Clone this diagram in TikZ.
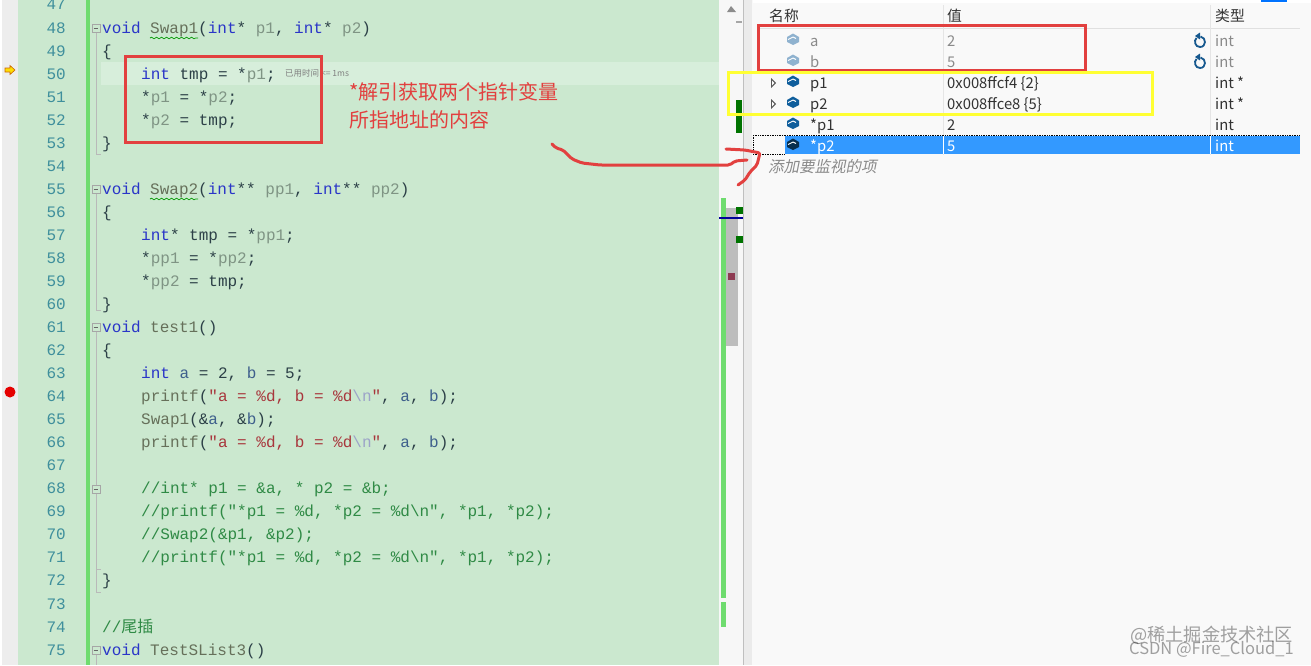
\documentclass[tikz,border=0pt]{standalone}
\usepackage{fontspec}
\usetikzlibrary{decorations.pathmorphing}
\newfontfamily\codefont{Liberation Mono}
\newfontfamily\cjk{Noto Sans CJK SC}
\definecolor{panel}{HTML}{CBE8CF}
\definecolor{curline}{HTML}{D7EEDB}
\definecolor{gutter}{HTML}{EDEDED}
\definecolor{changebar}{HTML}{6FDC6F}
\definecolor{lnum}{HTML}{3F8F9C}
\definecolor{kwc}{HTML}{2A35C8}
\definecolor{pac}{HTML}{7F9484}
\definecolor{txc}{HTML}{2C4047}
\definecolor{fnc}{HTML}{66705A}
\definecolor{stc}{HTML}{A8363C}
\definecolor{esc}{HTML}{9CA3C8}
\definecolor{cmc}{HTML}{2F8A45}
\definecolor{varc}{HTML}{3E5F8C}
\definecolor{mark}{HTML}{E2403F}
\definecolor{selblue}{HTML}{3399FF}
\definecolor{cubec}{HTML}{0F5E9C}
\definecolor{cubeg}{HTML}{8FB2CF}
\definecolor{wtext}{HTML}{333333}
\definecolor{gtext}{HTML}{8A8A8A}
\definecolor{refreshc}{HTML}{17598F}
\definecolor{ybox}{HTML}{FFFF33}
\definecolor{maroonm}{HTML}{8E3A52}
\newcommand{\kw}[1]{\textcolor{kwc}{#1}}
\newcommand{\pa}[1]{\textcolor{pac}{#1}}
\newcommand{\fn}[1]{\textcolor{fnc}{#1}}
\newcommand{\st}[1]{\textcolor{stc}{#1}}
\newcommand{\es}[1]{\textcolor{esc}{#1}}
\newcommand{\vr}[1]{\textcolor{varc}{#1}}
\newcommand{\cm}[1]{\textcolor{cmc}{#1}}
\newcommand{\lineY}[1]{28+23.04*(#1-48)}
\newcommand{\cl}[3]{\node[codeline] (c#1) at (#2,{\lineY{#1}+5}) {#3};}
\newcommand{\foldbox}[1]{\node[foldb] (f#1) at (96,{\lineY{#1}}) {}; \draw[foldline] ($(f#1.west)+(2,0)$) -- ($(f#1.east)+(-2,0)$);}
\newcommand{\cube}[3]{%
 \fill[#3] (#1-6,#2-2) -- (#1,#2-5.5) -- (#1+6,#2-2) -- (#1+6,#2+3) -- (#1,#2+6) -- (#1-6,#2+3) -- cycle;
 \draw[white,line width=.9pt] (#1-5,#2+.5) -- (#1,#2-2) -- (#1+3,#2-.5);}
\newcommand{\refresh}[2]{%
 \draw[refreshc,line width=1.8pt] (#1+.5,#2-4.5) .. controls (#1+6.5,#2-3.5) and (#1+6.5,#2+6) .. (#1,#2+6) .. controls (#1-5,#2+6) and (#1-6.5,#2-.5) .. (#1-3.5,#2-3);
 \fill[refreshc] (#1,#2-8.5) -- (#1,#2-1.5) -- (#1-5,#2-5) -- cycle;}
\usetikzlibrary{calc}
\tikzset{
 codeline/.style={anchor=base west,inner sep=0pt,font=\codefont\fontsize{16}{16}\selectfont\frenchspacing,text=txc},
 lnumber/.style={anchor=base east,inner sep=0pt,font=\codefont\fontsize{16}{16}\selectfont,text=lnum},
 foldb/.style={draw=gray!70,fill=panel,line width=.6pt,minimum size=8pt,inner sep=0pt,rectangle},
 foldline/.style={draw=gray!80!black,line width=.6pt},
 foldguide/.style={draw=gray!55,line width=.7pt},
 redbox/.style={draw=mark,line width=3pt},
 yellowbox/.style={draw=ybox,line width=3pt},
 watch/.style={anchor=base west,inner sep=0pt,font=\cjk\fontsize{14.8}{15}\selectfont,text=wtext},
 watchg/.style={watch,text=gtext},
 watchw/.style={watch,text=white},
 head/.style={watch,text=wtext},
 note/.style={anchor=base west,inner sep=0pt,font=\cjk\fontsize{20}{20}\selectfont,text=mark},
 ink/.style={draw=mark,line width=3pt,line cap=round,line join=round,rounded corners=2pt},
 squig/.style={draw=green!60!black,line width=.7pt,decorate,decoration={snake,amplitude=.8pt,segment length=5pt}},
 wm/.style={anchor=base west,inner sep=0pt,text=black,opacity=.36}
}
\begin{document}
\begin{tikzpicture}[x=1pt,y=-1pt]
\useasboundingbox (0,0) rectangle (1311,665);
% backgrounds
\fill[white] (0,0) rectangle (1311,665);
\fill[gutter] (2,0) rectangle (18,665);
\fill[panel] (18,0) rectangle (719,665);
\fill[curline] (101,62) rectangle (719,85);
\fill[changebar] (85.5,0) rectangle (90,665);
\fill[black!3] (719,0) rectangle (743,665);
\fill[black!8] (743,0) rectangle (752,665);
\draw[black!25,line width=.6pt] (743,0) -- (743,665) (752,0) -- (752,665);
\fill[black!2.5] (752,0) rectangle (1311,665);
% scrollbar
\fill[black!26] (726,208) rectangle (738,346);
\fill[changebar] (721,198) rectangle (726,598);
\fill[changebar] (721,602) rectangle (726,627);
\fill[green!45!black] (736,207) rectangle (743,214);
\fill[green!45!black] (736,236) rectangle (743,243);
\fill[green!45!black] (736,100) rectangle (742,133);
\fill[maroonm] (728,273) rectangle (735,280);
\fill[blue!60!black] (719,217) rectangle (743,219);
\fill[black!45] (727,12) -- (731,6) -- (736,12) -- cycle;
\fill[black!35] (736,21) rectangle (742,23);
% markers
\fill[yellow!80!orange,draw=orange!80!black,line width=.6pt] (5,68) -- (10,68) -- (10,65.5) -- (15,70) -- (10,74.5) -- (10,72) -- (5,72) -- cycle;
\node[circle,fill=red!90!black,minimum size=11pt,inner sep=0pt] (bp) at (10,392) {};
% fold guides
\draw[foldguide] (96,33) -- (96,154) -- (101,154);
\draw[foldguide] (96,194) -- (96,310) -- (101,310);
\draw[foldguide] (96,332) -- (96,592) -- (101,592);
\draw[foldguide] (96,569) -- (101,569);
\draw[foldguide] (96,655) -- (96,665);
\foldbox{48}\foldbox{55}\foldbox{61}\foldbox{68}\foldbox{75}
% line numbers
\foreach \n in {47,...,75}{\node[lnumber] (n\n) at (66,{\lineY{\n}+5}) {\n};}
% code
\cl{48}{102}{\kw{void} \fn{Swap1}(\kw{int}* \pa{p1}, \kw{int}* \pa{p2})}
\cl{49}{102}{\{}
\cl{50}{141}{\kw{int} tmp = *\pa{p1};}
\cl{51}{141}{*\pa{p1} = *\pa{p2};}
\cl{52}{141}{*\pa{p2} = tmp;}
\cl{53}{102}{\}}
\cl{55}{102}{\kw{void} \fn{Swap2}(\kw{int}** \pa{pp1}, \kw{int}** \pa{pp2})}
\cl{56}{102}{\{}
\cl{57}{141}{\kw{int}* tmp = *\pa{pp1};}
\cl{58}{141}{*\pa{pp1} = *\pa{pp2};}
\cl{59}{141}{*\pa{pp2} = tmp;}
\cl{60}{102}{\}}
\cl{61}{102}{\kw{void} \fn{test1}()}
\cl{62}{102}{\{}
\cl{63}{141}{\kw{int} \vr{a} = 2, \vr{b} = 5;}
\cl{64}{141}{\fn{printf}(\st{"a = \%d, b = \%d}\es{\textbackslash n}\st{"}, \vr{a}, \vr{b});}
\cl{65}{141}{\fn{Swap1}(\&\vr{a}, \&\vr{b});}
\cl{66}{141}{\fn{printf}(\st{"a = \%d, b = \%d}\es{\textbackslash n}\st{"}, \vr{a}, \vr{b});}
\cl{68}{141}{\cm{//int* p1 = \&a, * p2 = \&b;}}
\cl{69}{141}{\cm{//printf("*p1 = \%d, *p2 = \%d\textbackslash n", *p1, *p2);}}
\cl{70}{141}{\cm{//Swap2(\&p1, \&p2);}}
\cl{71}{141}{\cm{//printf("*p1 = \%d, *p2 = \%d\textbackslash n", *p1, *p2);}}
\cl{72}{102}{\}}
\cl{74}{102}{\cm{//{\cjk 尾插}}}
\cl{75}{102}{\kw{void} \fn{TestSList3}()}
\cl{76}{102}{\{}
% squiggles
\draw[squig] (150,38) -- (198,38);
\draw[squig] (150,199) -- (198,199);
% inline hint
\node[anchor=base west,inner sep=0pt,font=\cjk\fontsize{8.5}{9}\selectfont,text=gray] (hint) at (285,76.5) {已用时间 <= 1ms};
% annotation
\node[note] (note1) at (349,99) {*解引获取两个指针变量};
\node[note] (note2) at (349,127) {所指地址的内容};
\node[redbox,rectangle,inner sep=0pt,minimum width=196pt,minimum height=86pt] (codebox) at (223,99) {};
% watch header
\fill[white] (753,0) rectangle (1311,3);
\fill[blue!55!cyan] (1261,0) rectangle (1287,1.5);
\draw[black!12,line width=.6pt] (760,28) -- (1300,28);
\draw[black!10,line width=.6pt] (943,5) -- (943,155) (1210,5) -- (1210,155);
\node[head] (hname) at (769,21) {名称};
\node[head] (hval) at (947,21) {值};
\node[head] (htype) at (1215,21) {类型};
% selected row
\fill[selblue] (785,136) rectangle (1300,154);
\draw[black,densely dotted,line width=.7pt] (753,135) -- (1300,135) (753,154) -- (785,154) (753,135) -- (753,154);
\draw[white,line width=.8pt] (943,136) -- (943,154) (1210,136) -- (1210,154);
% rows
\cube{793}{39}{cubeg}\cube{793}{60}{cubeg}
\cube{793}{81}{cubec}\cube{793}{102}{cubec}\cube{793}{123}{cubec}\cube{793}{144}{black!50!cubec}
\foreach \yy/\nm in {83/ta,104/tb}{\fill[gray!70!black] (771,\yy-5) -- (776,\yy) -- (771,\yy+5) -- cycle; \fill[white] (772,\yy-2.5) -- (774.3,\yy) -- (772,\yy+2.5) -- cycle;}
\node[watchg] (ra) at (810,46) {a};
\node[watchg] (rav) at (947,46) {2};
\node[watchg] (rat) at (1215,46) {int};
\node[watchg] (rb) at (810,67) {b};
\node[watchg] (rbv) at (947,67) {5};
\node[watchg] (rbt) at (1215,67) {int};
\node[watch] (rp) at (810,88) {p1};
\node[watch] (rpv) at (947,88) {0x008ffcf4 \{2\}};
\node[watch] (rpt) at (1215,88) {int *};
\node[watch] (rq) at (810,109) {p2};
\node[watch] (rqv) at (947,109) {0x008ffce8 \{5\}};
\node[watch] (rqt) at (1215,109) {int *};
\node[watch] (rr) at (810,130) {*p1};
\node[watch] (rrv) at (947,130) {2};
\node[watch] (rrt) at (1215,130) {int};
\node[watchw] (rs) at (810,151) {*p2};
\node[watchw] (rsv) at (947,151) {5};
\node[watchw] (rst) at (1215,151) {int};
\node[watchg,font=\cjk\fontsize{15.5}{16}\selectfont,xslant=.2] (add) at (768,172) {添加要监视的项};
\refresh{1200}{41}\refresh{1200}{62}
% watch boxes
\node[redbox,rectangle,inner sep=0pt,minimum width=327pt,minimum height=45pt] (wred) at (921.5,47.5) {};
\node[yellowbox,rectangle,inner sep=0pt,minimum width=424pt,minimum height=42pt] (wyel) at (940,93) {};
% freehand arrow
\draw[ink] (552,144) -- (556,148) -- (563,150) -- (572,159) -- (582,163) -- (600,165) -- (730,165) -- (735,161) -- (747,160);
\draw[ink] (726,149) -- (745,150) -- (760,153) -- (757,165) -- (750,172) -- (745,180) -- (738,185);
% watermarks
\node[wm,font=\cjk\fontsize{18.2}{18}\selectfont] (wm1) at (1130,641) {@稀土掘金技术社区};
\node[wm,font=\cjk\fontsize{16.5}{16}\selectfont] (wm2) at (1129,654) {CSDN @Fire\_Cloud\_1};
\end{tikzpicture}
\end{document}
